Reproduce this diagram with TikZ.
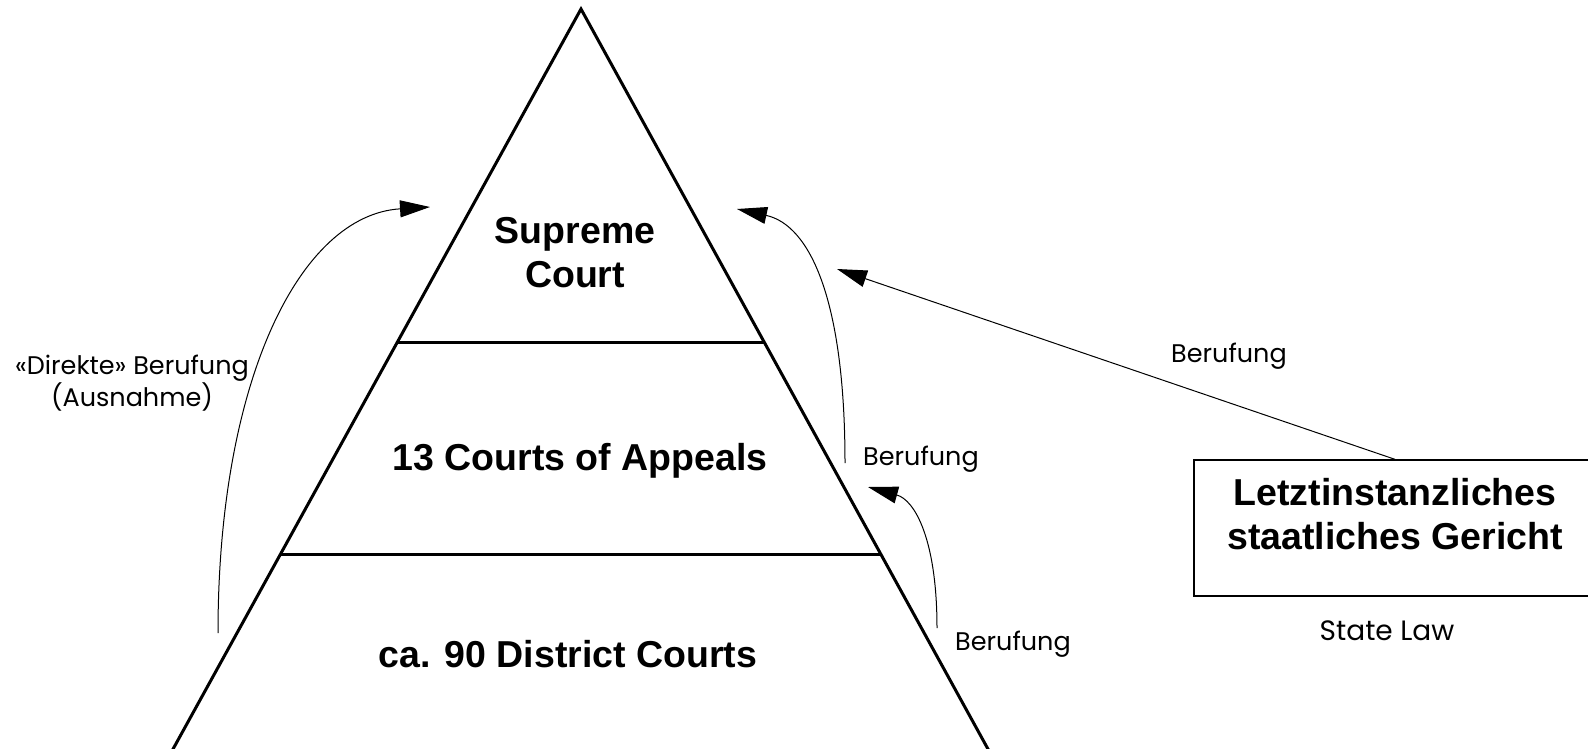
\documentclass[tikz,border=0pt]{standalone}
\usepackage{fontspec}
\setmainfont{Liberation Sans}
\newfontfamily\gothic{Poppins}
\usetikzlibrary{arrows.meta,positioning}

\begin{document}
\begin{tikzpicture}[x=1pt,y=-1pt,>={Triangle[length=30pt,width=17pt]},line join=miter]
    \tikzstyle{level}=[line width=3pt]
    \tikzstyle{tier}=[font=\fontsize{37.5}{44}\selectfont\bfseries,align=center]
    \tikzstyle{appeal}=[->,line width=1pt]
    \tikzstyle{remark}=[font=\gothic\fontsize{25.5}{32}\selectfont,align=center]
    \tikzstyle{courtbox}=[draw,line width=1.3pt,minimum width=402pt,minimum height=136pt]

    \useasboundingbox (0,0) rectangle (1588,749);

    % pyramid
    \coordinate (top) at (581,9);
    \coordinate (bl) at (167,760);
    \coordinate (br) at (994,760);
    \draw[level] (top) -- (bl) -- (br) -- cycle;
    \draw[level] (397,342) -- (764,342);
    \draw[level] (281,554) -- (881,554);

    \node[tier] (supreme) at (575,253) {Supreme\\Court};
    \node[tier,anchor=base] (appeals) at (580,470) {13 Courts of Appeals};
    \node[tier,anchor=base] (district) at (568,667) {ca. 90 District Courts};

    % state court
    \node[courtbox] (state) at (1395,528) {};
    \node[tier] (statename) at (1395,514) {Letztinstanzliches\\staatliches Gericht};
    \node[remark,anchor=base,font=\gothic\fontsize{28}{32}\selectfont] (statelaw) at (1387,640) {State Law};

    % appeals
    \coordinate (directfoot) at (218,633);
    \coordinate (directtip) at (430,207);
    \coordinate (appealsfoot) at (845,463);
    \coordinate (appealstip) at (737,209);
    \coordinate (districtfoot) at (937,628);
    \coordinate (districttip) at (868,487);
    \coordinate (statetip) at (837,269);

    \draw[appeal] (directfoot) .. controls (218,380) and (300,215) .. (directtip);
    \draw[appeal] (appealsfoot) .. controls (845,300) and (810,225) .. (appealstip);
    \draw[appeal] (districtfoot) .. controls (937,540) and (915,500) .. (districttip);
    \draw[appeal] (state.north) -- (statetip);

    \node[remark] (directlabel) at (132,383) {«Direkte» Berufung\\(Ausnahme)};
    \node[remark,anchor=base] (appealslabel) at (921,465) {Berufung};
    \node[remark,anchor=base] (districtlabel) at (1013,650) {Berufung};
    \node[remark,anchor=base] (statelabel) at (1229,362) {Berufung};
\end{tikzpicture}
\end{document}
